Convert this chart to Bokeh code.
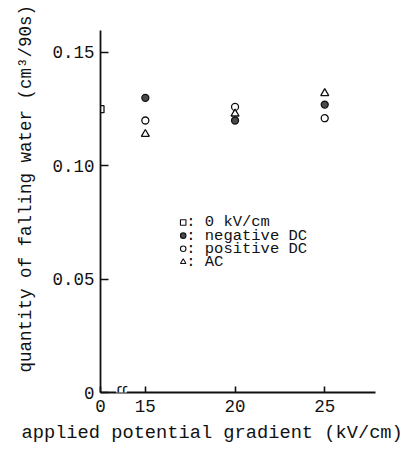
from bokeh.core.properties import value
from bokeh.embed import file_html
from bokeh.models import FixedTicker, Label, Range1d, Title
from bokeh.plotting import figure
from bokeh.resources import INLINE

# Quantity of falling water (cm^3 per 90 s) against applied potential gradient
no_field_x = [0]
no_field = [0.125]
applied = [15, 20, 25]                 # kV/cm
negative_dc = [0.130, 0.120, 0.127]
positive_dc = [0.120, 0.126, 0.121]
ac = [0.114, 0.123, 0.132]

x_tick_values = [0, 15, 20, 25]
x_tick_labels = ["0", "15", "20", "25"]
y_tick_values = [0, 0.05, 0.10, 0.15]
y_tick_labels = ["0", "0.05", "0.10", "0.15"]

legend_labels = [": 0 kV/cm", ": negative DC", ": positive DC", ": AC"]

# The x axis is broken between 0 and 15 kV/cm; 0 sits at the origin.
X_ORIGIN = 12.5
X_AXIS_END = 27.83
Y_TOP = 0.1597

# Key block placement (data units) and row pitch
KEY_X = 17.11
KEY_Y = 0.0750
KEY_DY = 0.0058


def axis_x(v):
    return X_ORIGIN if v == 0 else v


FONT = "Liberation Mono"
INK = "#111111"

p = figure(
    width=405, height=449,
    output_backend="svg", toolbar_location=None,
    x_range=Range1d(X_ORIGIN, X_AXIS_END), y_range=Range1d(0, Y_TOP),
    min_border_left=99, min_border_right=30,
    min_border_top=30, min_border_bottom=57,
)
p.outline_line_color = None
p.grid.visible = False
p.background_fill_color = "white"
p.border_fill_color = "white"

xaxis = p.xaxis[0]
xaxis.ticker = FixedTicker(ticks=[axis_x(v) for v in x_tick_values])
xaxis.major_label_overrides = {axis_x(v): s for v, s in zip(x_tick_values, x_tick_labels)}

yaxis = p.yaxis[0]
yaxis.ticker = FixedTicker(ticks=y_tick_values)
yaxis.major_label_overrides = dict(zip(y_tick_values, y_tick_labels))

for ax in (xaxis, yaxis):
    ax.axis_line_color = INK
    ax.axis_line_width = 1.8
    ax.major_tick_line_color = INK
    ax.major_tick_line_width = 1.6
    ax.major_tick_out = 0
    ax.minor_tick_line_color = None
    ax.major_label_text_font = FONT
    ax.major_label_text_font_size = "17.5px"
    ax.major_label_text_color = INK
xaxis.major_tick_in = 6
xaxis.major_label_standoff = 7
yaxis.major_tick_in = 8
yaxis.major_label_standoff = 6

styles = [
    dict(marker="square", fill_color="white"),
    dict(marker="circle", fill_color="#4a4a4a"),
    dict(marker="circle", fill_color="white"),
    dict(marker="triangle", fill_color="white"),
]
series = [
    ([axis_x(v) for v in no_field_x], no_field),
    (applied, negative_dc),
    (applied, positive_dc),
    (applied, ac),
]

for (xs, ys), st in zip(series, styles):
    size = 8 if st["marker"] == "triangle" else 7
    p.scatter(xs, ys, size=size, line_color=INK, line_width=1.3, **st)

# Key: one row per series, marker followed by its label
for i, (label, st) in enumerate(zip(legend_labels, styles)):
    y = KEY_Y - i * KEY_DY
    p.scatter([KEY_X], [y], size=5.5, line_color=INK, line_width=1.1, **st)
    p.text([KEY_X], [y], text=[label], x_offset=3, text_baseline="middle",
           text_align="left", text_font=value(FONT), text_font_size="15.5px",
           text_color=INK)

# Break mark on the x axis
p.add_layout(Label(x=X_ORIGIN + 1.17, y=0, text="ʃʃ", text_align="center",
                   text_baseline="middle", text_font="DejaVu Sans",
                   text_font_size="16px", text_color=INK,
                   background_fill_color="white"))

# Axis titles
p.add_layout(Title(text="quantity of falling water (cm³/90s)", align="left",
                   offset=20, standoff=27, text_font=FONT, text_font_size="17.5px",
                   text_font_style="normal", text_color=INK), "left")
p.add_layout(Title(text="applied potential gradient (kV/cm)", align="left",
                   offset=-79, standoff=10, text_font=FONT, text_font_size="18.7px",
                   text_font_style="normal", text_color=INK), "below")

open("out.html", "w").write(file_html(p, INLINE))
